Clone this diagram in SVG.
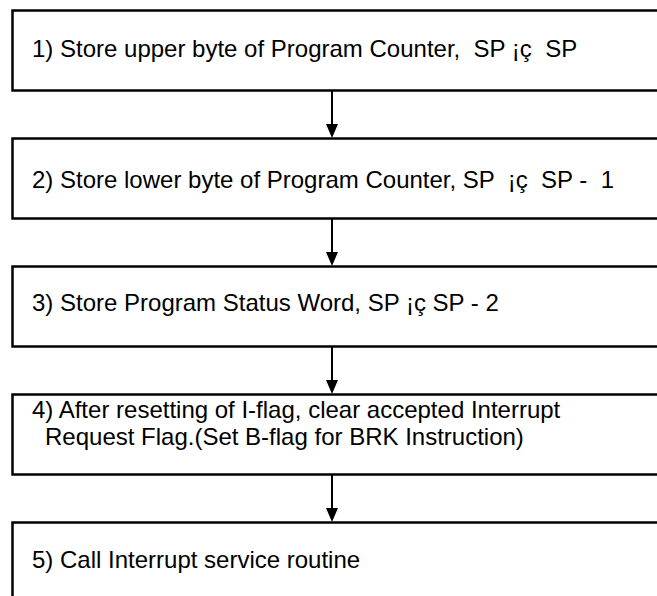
<svg xmlns="http://www.w3.org/2000/svg" width="657" height="596" viewBox="0 0 657 596">
<defs>
<style>
.box{fill:#fff;stroke:#000;stroke-width:2.5}
.lbl{font-family:"Liberation Sans",Arial,sans-serif;font-size:24px;fill:#000;white-space:pre}
.conn{stroke:#000;stroke-width:2;fill:none}
.head{fill:#000}
</style>
</defs>
<rect width="657" height="596" fill="#fff"/>
<g id="connectors">
<line class="conn" x1="332" y1="91" x2="332" y2="124"/>
<path class="head" d="M326,124 L338,124 L332,138 Z"/>
<line class="conn" x1="332" y1="219" x2="332" y2="252"/>
<path class="head" d="M326,252 L338,252 L332,266 Z"/>
<line class="conn" x1="332" y1="347" x2="332" y2="380"/>
<path class="head" d="M326,380 L338,380 L332,394 Z"/>
<line class="conn" x1="332" y1="475" x2="332" y2="508"/>
<path class="head" d="M326,508 L338,508 L332,522 Z"/>
</g>
<g id="node1">
<rect class="box" x="12.5" y="10.5" width="700" height="80"/>
<text class="lbl" x="32" y="57" xml:space="preserve">1) Store upper byte of Program Counter,  SP ¡ç  SP</text>
</g>
<g id="node2">
<rect class="box" x="12.5" y="138.5" width="700" height="80"/>
<text class="lbl" x="32" y="188" xml:space="preserve">2) Store lower byte of Program Counter, SP  ¡ç  SP -  1</text>
</g>
<g id="node3">
<rect class="box" x="12.5" y="266.5" width="700" height="80"/>
<text class="lbl" x="32" y="311" xml:space="preserve">3) Store Program Status Word, SP ¡ç SP - 2</text>
</g>
<g id="node4">
<rect class="box" x="12.5" y="394.5" width="700" height="80"/>
<text class="lbl" x="32" y="418" xml:space="preserve">4) After resetting of I-flag, clear accepted Interrupt</text>
<text class="lbl" x="45" y="445" xml:space="preserve">Request Flag.(Set B-flag for BRK Instruction)</text>
</g>
<g id="node5">
<rect class="box" x="12.5" y="522.5" width="700" height="80"/>
<text class="lbl" x="32" y="568" xml:space="preserve">5) Call Interrupt service routine</text>
</g>
</svg>
